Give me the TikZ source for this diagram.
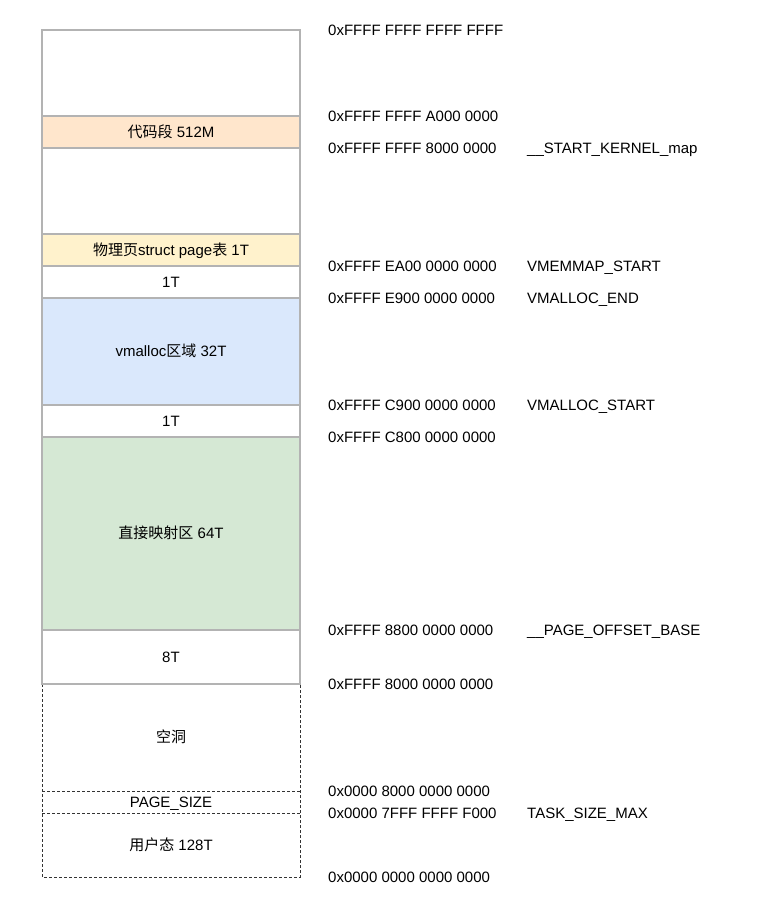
\documentclass[tikz,border=0pt]{standalone}
\usepackage{fontspec}
\setmainfont{Liberation Sans}
\newfontfamily\cjk{Noto Sans CJK SC}
\newcommand\zh[1]{{\cjk #1}}
\definecolor{edgegrey}{HTML}{B3B3B3}
\definecolor{dashgrey}{HTML}{333333}
\definecolor{orangefill}{HTML}{FFE6CC}
\definecolor{yellowfill}{HTML}{FFF2CC}
\definecolor{bluefill}{HTML}{DAE8FC}
\definecolor{greenfill}{HTML}{D5E8D4}
\begin{document}
\begin{tikzpicture}[x=1pt,y=-1pt,
  font=\fontsize{15pt}{18pt}\selectfont,
  region/.style={draw=edgegrey, line width=1.2pt, fill=white, minimum width=258pt, inner sep=0pt, outer sep=0pt, anchor=north west},
  dashedregion/.style={minimum width=258pt, inner sep=0pt, outer sep=0pt, anchor=north west},
  dashline/.style={draw=dashgrey, line width=0.8pt, dash pattern=on 3pt off 2pt},
  lbl/.style={inner sep=0pt, text height=10.7pt, text depth=0pt},
  addr/.style={lbl, anchor=west},
  sym/.style={lbl, anchor=west}]
\useasboundingbox (0,0) rectangle (757,907);
\fill[white] (0,0) rectangle (757,907);
% dashed user part
\node[dashedregion, minimum height=107pt] (hole) at (42,684) {};
\node[dashedregion, minimum height=22pt] (pagesize) at (42,791) {};
\node[dashedregion, minimum height=64pt] (user) at (42,813) {};
\draw[dashline] (hole.north west) rectangle (user.south east);
\draw[dashline] (pagesize.north west) -- (pagesize.north east);
\draw[dashline] (pagesize.south west) -- (pagesize.south east);
\node[lbl] at (hole.center) {\zh{空洞}};
\node[lbl] at (pagesize.center) {PAGE\_SIZE};
\node[lbl] at (user.center) {\zh{用户态} 128T};
% kernel part
\node[region, minimum height=86pt] (top) at (42,30) {};
\node[region, minimum height=32pt, fill=orangefill] (code) at (42,116) {};
\node[region, minimum height=86pt] (gap1) at (42,148) {};
\node[region, minimum height=32pt, fill=yellowfill] (vmemmap) at (42,234) {};
\node[region, minimum height=32pt] (hole1) at (42,266) {};
\node[region, minimum height=107pt, fill=bluefill] (vmalloc) at (42,298) {};
\node[region, minimum height=32pt] (hole2) at (42,405) {};
\node[region, minimum height=193pt, fill=greenfill] (direct) at (42,437) {};
\node[region, minimum height=54pt] (guard) at (42,630) {};
\node[lbl] at (code.center) {\zh{代码段} 512M};
\node[lbl] at (vmemmap.center) {\zh{物理页}struct page\zh{表} 1T};
\node[lbl] at (hole1.center) {1T};
\node[lbl] at (vmalloc.center) {vmalloc\zh{区域} 32T};
\node[lbl] at (hole2.center) {1T};
\node[lbl] at (direct.center) {\zh{直接映射区} 64T};
\node[lbl] at (guard.center) {8T};
% addresses
\node[addr] (a1) at (328,30) {0xFFFF FFFF FFFF FFFF};
\node[addr] (a2) at (328,116) {0xFFFF FFFF A000 0000};
\node[addr] (a3) at (328,148) {0xFFFF FFFF 8000 0000};
\node[addr] (a4) at (328,266) {0xFFFF EA00 0000 0000};
\node[addr] (a5) at (328,298) {0xFFFF E900 0000 0000};
\node[addr] (a6) at (328,405) {0xFFFF C900 0000 0000};
\node[addr] (a7) at (328,437) {0xFFFF C800 0000 0000};
\node[addr] (a8) at (328,630) {0xFFFF 8800 0000 0000};
\node[addr] (a9) at (328,684) {0xFFFF 8000 0000 0000};
\node[addr] (a10) at (328,791) {0x0000 8000 0000 0000};
\node[addr] (a11) at (328,813) {0x0000 7FFF FFFF F000};
\node[addr] (a12) at (328,877) {0x0000 0000 0000 0000};
% symbols
\node[sym] (s1) at (527,148) {\_\_START\_KERNEL\_map};
\node[sym] (s2) at (527,266) {VMEMMAP\_START};
\node[sym] (s3) at (527,298) {VMALLOC\_END};
\node[sym] (s4) at (527,405) {VMALLOC\_START};
\node[sym] (s5) at (527,630) {\_\_PAGE\_OFFSET\_BASE};
\node[sym] (s6) at (527,813) {TASK\_SIZE\_MAX};
\end{tikzpicture}
\end{document}
